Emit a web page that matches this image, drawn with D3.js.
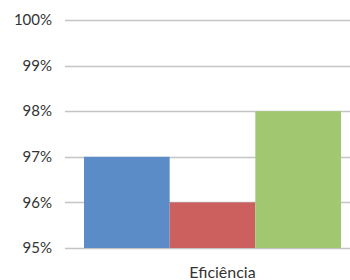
<!DOCTYPE html>
<html lang="pt">
<head>
    <meta charset="UTF-8">
    <title>Eficiência</title>
    <script src="https://cdn.jsdelivr.net/npm/d3@7"></script>
    <style>
        body { margin: 0; background: #fff; }
        text { font-family: "Lato", "Noto Sans", sans-serif; fill: #333; }
    </style>
</head>
<body>
    <svg width="350" height="280"></svg>
    <script>
        var categories = ["Eficiência"];
        var series = ["A", "B", "C"];
        var values = [97, 96, 98];
        var colors = ["#5b8cc7", "#cc605e", "#a1c770"];
        var ticks = [95, 96, 97, 98, 99, 100];

        var svg = d3.select("svg");
        var plotLeft = 65, plotRight = 350, plotTop = 20, plotBottom = 248;

        var y = d3.scaleLinear().domain([95, 100]).range([plotBottom, plotTop]);
        // category band is centred a bit right of the gridlines' midpoint
        var x = d3.scaleBand().domain(categories).range([70, 355]).paddingOuter(0.0545);
        var xs = d3.scaleBand().domain(series).range([0, x.bandwidth()]);

        // gridlines + labels
        var g = svg.append("g");
        g.selectAll("line").data(ticks).enter().append("line")
            .attr("x1", plotLeft).attr("x2", plotRight)
            .attr("y1", function(d) { return Math.round(y(d)) + 0.5; })
            .attr("y2", function(d) { return Math.round(y(d)) + 0.5; })
            .attr("stroke", "#c4c4c4").attr("stroke-width", 1.5);
        g.selectAll("text").data(ticks).enter().append("text")
            .attr("x", 52).attr("y", function(d) { return y(d); })
            .attr("dy", "0.35em").attr("text-anchor", "end")
            .attr("font-size", "15px")
            .text(function(d) { return d + "%"; });

        // bars
        svg.append("g").selectAll("rect").data(values).enter().append("rect")
            .attr("x", function(d, i) { return x(categories[0]) + xs(series[i]); })
            .attr("y", function(d) { return y(d); })
            .attr("width", xs.bandwidth())
            .attr("height", function(d) { return y(95) - y(d); })
            .attr("fill", function(d, i) { return colors[i]; });

        // category label (sits a little right of the bars' centre)
        svg.append("g").selectAll("text").data(categories).enter().append("text")
            .attr("x", function(d) { return x(d) + x.bandwidth() / 2 + 10; })
            .attr("y", 278).attr("text-anchor", "middle")
            .attr("font-size", "16px")
            .text(function(d) { return d; });
    </script>
</body>
</html>
